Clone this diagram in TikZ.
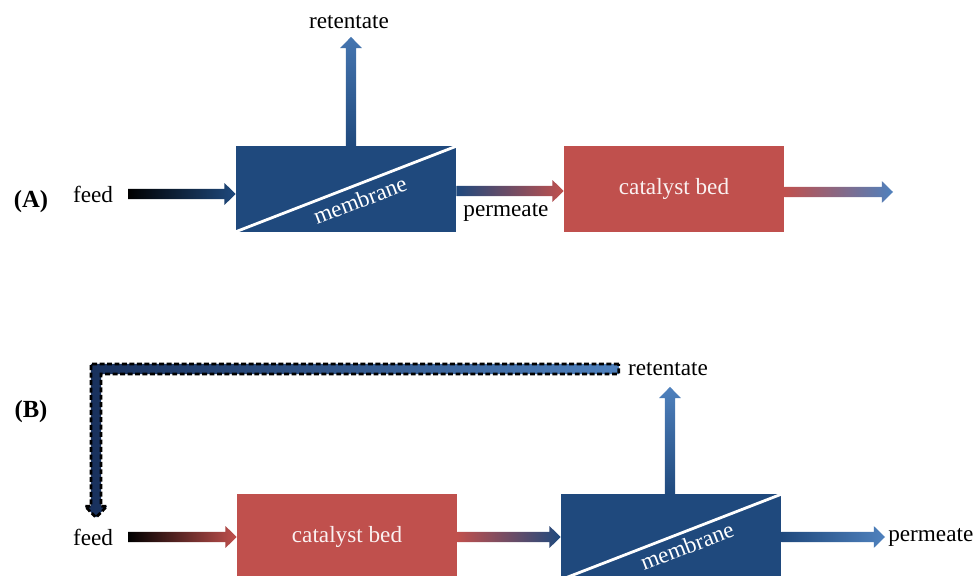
\documentclass[tikz,border=0pt]{standalone}
\usepackage{fontspec}
\setmainfont{Liberation Serif}
\usepackage{xcolor}
\usepackage{tikz}
\usetikzlibrary{calc}

\definecolor{memblue}{RGB}{31,73,125}
\definecolor{catred}{RGB}{192,80,77}
\definecolor{lightblue}{RGB}{79,129,189}
\definecolor{navy}{RGB}{24,48,92}

\def\shaftw{3.6pt}
\def\headw{7.8pt}
\def\headl{8pt}

% block arrow to the right: start, tip, colour at start, colour at tip
\newcommand{\harrow}[4]{%
  \shade[left color=#3,right color=#4] let \p1=(#1),\p2=(#2) in
  (\x1,{\y1+\shaftw}) -- ({\x2-\headl},{\y1+\shaftw}) -- ({\x2-\headl},{\y1+\headw}) -- (\x2,\y1)
  -- ({\x2-\headl},{\y1-\headw}) -- ({\x2-\headl},{\y1-\shaftw}) -- (\x1,{\y1-\shaftw}) -- cycle;}
% block arrow upwards: start, tip, colour at start, colour at tip
\newcommand{\varrow}[4]{%
  \shade[bottom color=#3,top color=#4] let \p1=(#1),\p2=(#2) in
  ({\x1-\shaftw},\y1) -- ({\x1-\shaftw},{\y2-\headl}) -- ({\x1-\headw},{\y2-\headl}) -- (\x1,\y2)
  -- ({\x1+\headw},{\y2-\headl}) -- ({\x1+\shaftw},{\y2-\headl}) -- ({\x1+\shaftw},\y1) -- cycle;}

\begin{document}
\begin{tikzpicture}[x=0.025cm,y=-0.025cm,
  txt/.style={inner sep=0pt,font=\fontsize{16.5}{19}\selectfont},
  tag/.style={inner sep=0pt,font=\fontsize{17.5}{20}\selectfont\bfseries},
  unit/.style={txt,minimum width=5.5cm,minimum height=2.125cm},
  mem/.style={unit,fill=memblue},
  cat/.style={unit,fill=catred,text=white!92!catred},
  split/.style={white,line width=2pt},
  memtxt/.style={txt,text=white,rotate=20.9}]
\useasboundingbox (0,0) rectangle (980,576);
\clip (0,0) rectangle (980,576);

%(A) membrane first%
\node[tag] (labA) at (31,202) {(A)};
\node[txt] (feedA) at (93,194) {feed};
\node[mem] (memA) at (346,189) {};
\node[cat] (catA) at (674,189) {catalyst bed};
\node[txt] (retA) at (349,22) {retentate};
\node[txt] (permA) at (506,212) {permeate};
\coordinate (outA) at (893,192);
\draw[split] (memA.south west) -- (memA.north east);
\node[memtxt] (memAtxt) at ($(memA)+(14,11)$) {membrane};

\harrow{$(feedA.east)+(15,0)$}{memA.west}{black}{memblue}
\harrow{$(memA.east)+(0,2)$}{catA.west}{memblue}{catred}
\harrow{$(catA.east)+(0,3)$}{outA}{catred}{lightblue}
\varrow{$(memA.north)+(5,0)$}{$(retA.south)+(0,8)$}{memblue}{lightblue!80!memblue}

%(B) catalyst bed first%
\node[tag] (labB) at (31,412) {(B)};
\node[txt] (feedB) at (93,537) {feed};
\node[cat] (catB) at (347,537) {catalyst bed};
\node[mem] (memB) at (671,537) {};
\node[txt] (retB) at (668,369) {retentate};
\node[txt,anchor=west] (permB) at (888,537) {permeate};
\coordinate (bend) at (96,368);
\draw[split] (memB.south west) -- (memB.north east);
\node[memtxt] (memBtxt) at ($(memB)+(16,9)$) {membrane};

\harrow{$(feedB.east)+(15,0)$}{catB.west}{black}{catred}
\harrow{catB.east}{memB.west}{catred}{memblue}
\harrow{memB.east}{$(permB.west)+(-3,0)$}{memblue}{lightblue}
\varrow{$(memB.north)+(-1,0)$}{$(retB.south)+(0,11)$}{memblue}{lightblue}

%recycle of the retentate%
\shade[left color=navy,right color=lightblue,draw=black,line width=2pt,dash pattern=on 3.5pt off 1.8pt]
  let \p1=($(retB.west)+(-9,0)$), \p2=(bend), \p3=($(feedB.north)+(0,-11)$) in
  (\x1,{\y1+\shaftw}) -- ({\x2-\shaftw},{\y1+\shaftw}) -- ({\x2-\shaftw},{\y3+\headl}) -- ({\x2-\headw},{\y3+\headl})
  -- (\x2,\y3) -- ({\x2+\headw},{\y3+\headl}) -- ({\x2+\shaftw},{\y3+\headl}) -- ({\x2+\shaftw},{\y1-\shaftw})
  -- (\x1,{\y1-\shaftw}) -- cycle;

\end{tikzpicture}
\end{document}
